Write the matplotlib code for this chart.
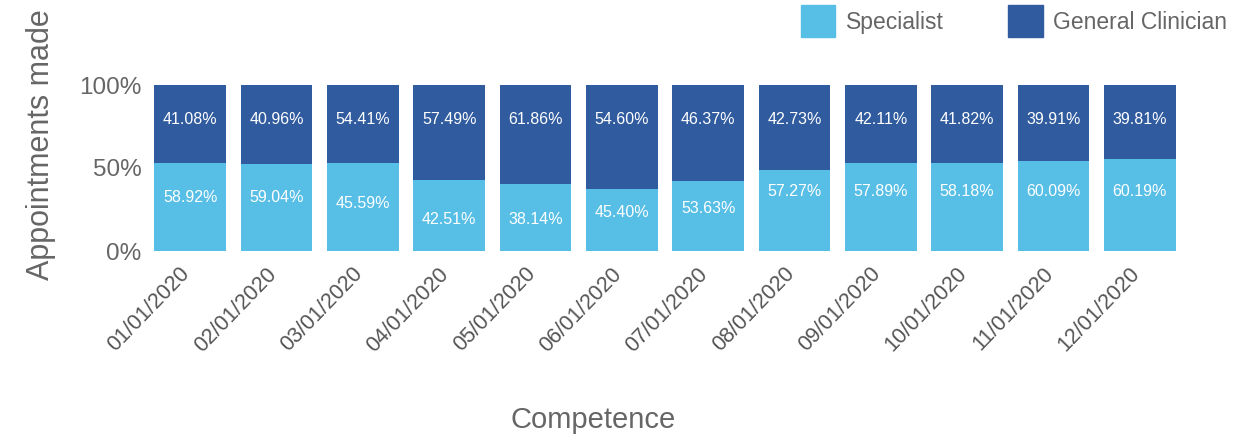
import matplotlib
matplotlib.use("Agg")
import matplotlib.pyplot as plt
import matplotlib.transforms as mtransforms
from matplotlib.patches import Patch

months = ["01/01/2020", "02/01/2020", "03/01/2020", "04/01/2020", "05/01/2020", "06/01/2020",
          "07/01/2020", "08/01/2020", "09/01/2020", "10/01/2020", "11/01/2020", "12/01/2020"]
# bar heights as drawn (share of specialist)
specialist = [0.530, 0.524, 0.530, 0.428, 0.404, 0.373, 0.422, 0.488, 0.530, 0.530, 0.542, 0.554]
general = [1 - s for s in specialist]
# the printed labels
specialist_lbl = ["58.92%", "59.04%", "45.59%", "42.51%", "38.14%", "45.40%",
                  "53.63%", "57.27%", "57.89%", "58.18%", "60.09%", "60.19%"]
general_lbl = ["41.08%", "40.96%", "54.41%", "57.49%", "61.86%", "54.60%",
               "46.37%", "42.73%", "42.11%", "41.82%", "39.91%", "39.81%"]

# vertical spot of the label inside the light segment (layout only)
spec_lbl_y = [0.325, 0.325, 0.289, 0.187, 0.187, 0.229, 0.259, 0.361, 0.361, 0.361, 0.361, 0.361]
gen_lbl_y = 0.79

light = "#57BEE6"
dark = "#305B9E"
grey = "#666666"
plt.rcParams["font.family"] = "Liberation Sans"

fig = plt.figure(figsize=(12.34, 4.4), dpi=100)
ax = fig.add_axes([147 / 1234, 1 - 251 / 440, (1183 - 147) / 1234, (251 - 85) / 440])

x = range(len(months))
ax.bar(x, specialist, width=0.83, color=light)
ax.bar(x, general, bottom=specialist, width=0.83, color=dark)

for i in x:
    ax.text(i, spec_lbl_y[i], specialist_lbl[i], color="white", fontsize=11.5,
            ha="center", va="center")
    ax.text(i, gen_lbl_y, general_lbl[i], color="white", fontsize=11.5,
            ha="center", va="center")

ax.set_xlim(-0.5, len(months) - 0.5)
ax.set_ylim(0, 1)
ax.set_yticks([0, 0.5, 1])
ax.set_yticklabels(["0%", "50%", "100%"])
ax.set_xticks(list(x))
ax.set_xticklabels(months, rotation=46, ha="right", rotation_mode="anchor")
ax.tick_params(axis="y", length=0, pad=4, labelsize=17.5, labelcolor=grey)
ax.tick_params(axis="x", length=0, pad=9, labelsize=15.5, labelcolor="#555555")
shift = mtransforms.ScaledTranslation(-11 / 100, 0, fig.dpi_scale_trans)
for lbl in ax.get_xticklabels():
    lbl.set_transform(lbl.get_transform() + shift)
for s in ax.spines.values():
    s.set_visible(False)

fig.text(41 / 1234, 1 - 145 / 440, "Appointments made", fontsize=22, color=grey,
         rotation=90, ha="center", va="center")
fig.text(593 / 1234, 1 - 420 / 440, "Competence", fontsize=21, color=grey,
         ha="center", va="center")

handles = [Patch(color=light, label="Specialist"), Patch(color=dark, label="General Clinician")]
fig.legend(handles=handles, loc="upper left", bbox_to_anchor=(801 / 1234, 1 - 5 / 440),
           ncol=2, frameon=False, fontsize=16.5, labelcolor=grey,
           handlelength=1.5, handleheight=1.8, handletextpad=0.45,
           columnspacing=2.82, borderaxespad=0, borderpad=0)

fig.savefig("out.png", dpi=100)
